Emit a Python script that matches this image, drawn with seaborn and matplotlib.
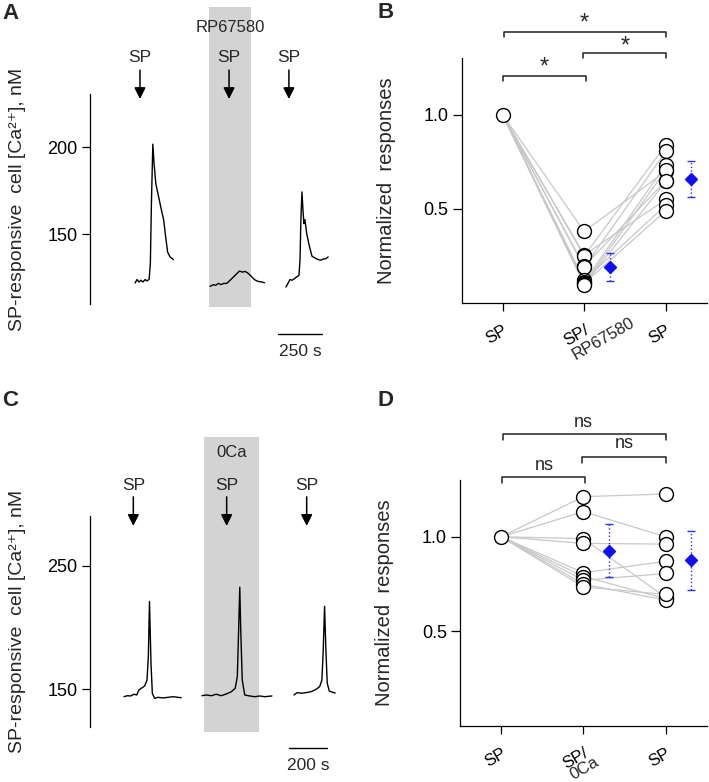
import numpy as np
import pandas as pd
import matplotlib
matplotlib.use("Agg")
import matplotlib.pyplot as plt
import seaborn as sns

# ---- Panel A traces (time in s within each recording, [Ca2+] in nM)
a_t1 = [0, 11, 23, 34, 45, 57, 68, 80, 87, 93, 101, 108, 118, 132, 148, 163, 174, 185, 199, 218]
a_y1 = [122.0, 124.0, 122.6, 123.6, 122.6, 124.0, 123.2, 124.1, 133.2, 167.6, 201.7, 190.6,
        179.1, 172.4, 164.8, 158.0, 148.4, 139.8, 137.0, 135.5]
a_t2 = [0, 19, 32, 47, 62, 78, 95, 114, 133, 152, 167, 184, 199, 214, 233, 252, 271, 294, 309]
a_y2 = [120.1, 121.1, 120.7, 121.8, 121.1, 121.8, 121.8, 123.6, 125.5, 127.4, 128.9, 128.3,
        128.7, 127.8, 126.0, 124.0, 123.0, 122.6, 122.2]
a_t3 = [0, 11, 23, 34, 45, 61, 74, 80, 85, 91, 97, 102, 108, 118, 132, 148, 165, 180, 197,
        212, 227, 240]
a_y3 = [119.7, 121.7, 124.0, 123.6, 124.3, 125.5, 126.4, 135.1, 158.0, 174.3, 163.8, 156.1,
        158.4, 150.4, 143.7, 137.4, 136.4, 135.6, 135.1, 135.8, 136.0, 137.0]

# ---- Panel C traces
c_t1 = [0, 17, 35, 53, 67, 78, 91, 109, 121, 128, 134, 142, 149, 161, 179, 205, 231, 258, 284, 301]
c_y1 = [144.0, 144.8, 144.6, 146.0, 145.4, 149.4, 150.8, 152.7, 157.5, 176.4, 221.0, 171.0,
        146.8, 142.7, 143.5, 143.0, 143.5, 144.0, 143.5, 143.2]
c_t2 = [0, 23, 49, 75, 101, 128, 154, 175, 186, 193, 199, 204, 212, 225, 251, 278, 304, 330, 368]
c_y2 = [144.8, 145.4, 144.8, 146.0, 144.8, 146.2, 148.0, 150.8, 160.2, 198.0, 232.5, 198.0,
        157.5, 145.4, 144.6, 144.0, 144.6, 144.0, 144.6]
c_t3 = [0, 17, 39, 65, 91, 117, 135, 147, 154, 161, 168, 175, 186, 205, 217]
c_y3 = [145.4, 147.3, 146.8, 147.3, 148.1, 150.0, 152.1, 157.5, 181.8, 217.0, 181.8, 154.9,
        148.5, 147.5, 147.0]

# ---- Panel B / D normalized responses (one value per cell)
conds = [0, 1, 2]
b_labels = ["SP", "SP/", "SP"]
b_sp = [1.0] * 10
b_rp = [0.38, 0.255, 0.25, 0.195, 0.19, 0.12, 0.113, 0.105, 0.10, 0.098]
b_wash = [0.70, 0.55, 0.84, 0.65, 0.805, 0.52, 0.734, 0.49, 0.707, 0.645]
b_mean = [0.189, 0.658]
b_err = [0.074, 0.098]
b_sig = ["*", "*", "*"]

d_labels = ["SP", "SP/", "SP"]
d_sp = [1.0] * 9
d_0ca = [1.212, 1.133, 0.99, 0.965, 0.81, 0.79, 0.77, 0.75, 0.735]
d_wash = [1.226, 1.0, 0.68, 0.961, 0.871, 0.673, 0.806, 0.665, 0.695]
d_mean = [0.925, 0.876]
d_err = [0.14, 0.155]
d_sig = ["ns", "ns", "ns"]

sns.set_theme(style="ticks")
plt.rcParams["font.family"] = ["Liberation Sans", "DejaVu Sans"]
plt.rcParams["axes.linewidth"] = 0.9
plt.rcParams["xtick.major.width"] = 0.9
plt.rcParams["ytick.major.width"] = 0.9
plt.rcParams["xtick.color"] = "black"
plt.rcParams["ytick.color"] = "black"
plt.rcParams["axes.edgecolor"] = "black"

fig = plt.figure(figsize=(7.09, 7.82), dpi=100)
SHADE = "#d3d3d3"


def trace_panel(ax, segs, offsets, ylim, yticks, shade, arrows_x, arrow_y, sp_y,
                drug, drug_y, bar, bar_y, bar_label):
    for (t, y), off in zip(segs, offsets):
        df = pd.DataFrame({"t": np.array(t) + off, "y": y})
        sns.lineplot(data=df, x="t", y="y", ax=ax, color="black", lw=1.0, sort=False)
    tr = ax.get_xaxis_transform()
    ax.axvspan(shade[0], shade[1], ymin=shade[2], ymax=shade[3], color=SHADE,
               lw=0, zorder=0, clip_on=False)
    for x in arrows_x:
        ax.annotate("", xy=(x, arrow_y[1]), xytext=(x, arrow_y[0]), xycoords=tr,
                    arrowprops=dict(arrowstyle="-|>", color="black", lw=1.1,
                                    mutation_scale=17, shrinkA=0, shrinkB=0),
                    annotation_clip=False)
        ax.text(x, sp_y, "SP", transform=tr, ha="center", va="center", fontsize=12.5)
    ax.text(np.mean(shade[:2]), drug_y, drug, transform=tr, ha="center", va="center",
            fontsize=12)
    ax.plot(bar, [bar_y, bar_y], transform=tr, color="black", lw=1.0, clip_on=False)
    ax.text(np.mean(bar), bar_y - 0.085, bar_label, transform=tr, ha="center",
            va="center", fontsize=12.5)
    ax.set_xlim(0, ax.get_xlim()[1])
    ax.set_ylim(*ylim)
    ax.set_yticks(yticks)
    ax.set_xticks([])
    for s in ["top", "right", "bottom"]:
        ax.spines[s].set_visible(False)
    ax.tick_params(axis="y", labelsize=13, length=6, pad=3)
    ax.set_xlabel("")
    ax.set_ylabel("SP-responsive  cell [Ca\u00b2\u207a], nM", fontsize=14)
    ax.yaxis.set_label_coords(-0.254, 0.5)


axA = fig.add_axes([0.1269, 0.6113, 0.3526, 0.2685])
axA.set_xlim(0, 1420)
trace_panel(axA, [(a_t1, a_y1), (a_t2, a_y2), (a_t3, a_y3)], [256, 682, 1113],
            (110, 230.5), [150, 200], (676, 915, -0.014, 1.414), [284, 790, 1130],
            (1.114, 0.976), 1.176, "RP67580", 1.319, [1068, 1318], -0.143, "250 s")

axC = fig.add_axes([0.1269, 0.0703, 0.3526, 0.2698])
axC.set_xlim(0, 1315)
trace_panel(axC, [(c_t1, c_y1), (c_t2, c_y2), (c_t3, c_y3)], [179, 589, 1073],
            (119.5, 290), [150, 250], (600, 889, -0.024, 1.374), [228, 719, 1140],
            (1.091, 0.953), 1.147, "0Ca", 1.299, [1048, 1248], -0.0995, "200 s")


def response_panel(ax, first, mid, last, labels, second, sec_off, mean, err, sig,
                   brackets, sig_fs, sig_dy):
    n = len(first)
    df = pd.DataFrame({
        "cell": np.tile(np.arange(n), 3),
        "cond": np.repeat(conds, n),
        "resp": list(first) + list(mid) + list(last),
    })
    sns.lineplot(data=df, x="cond", y="resp", units="cell", estimator=None, ax=ax,
                 color="#c8c8c8", lw=0.9, zorder=1)
    pts = df.drop_duplicates(subset=["cond", "resp"])
    sns.scatterplot(data=pts, x="cond", y="resp", ax=ax, s=100, facecolor="white",
                    edgecolor="black", linewidth=1.0, zorder=3)
    mx = [1.31, 2.31]
    _, caps, bars = ax.errorbar(mx, mean, yerr=err, fmt="D", color="#1010ee", ms=6,
                                ecolor="#3030ee", elinewidth=1.0, capsize=3,
                                capthick=1.0, zorder=4)
    for b in bars:
        b.set_linestyle(":")
    for (x0, x1, yh, yl), s, (tx, ty) in zip(brackets, sig, sig_dy):
        ax.plot([x0, x0, x1, x1], [yl, yh, yh, yl], color="#222222", lw=1.1,
                clip_on=False)
        ax.text(tx, ty, s, ha="center", va="center", fontsize=sig_fs, clip_on=False)
    ax.set_xlim(-0.5, 2.5)
    ax.set_ylim(0, 1.3)
    ax.set_yticks([0.5, 1.0])
    ax.set_yticklabels(["0.5", "1.0"])
    ax.set_xticks(conds)
    ax.set_xticklabels(labels, rotation=30, ha="right", rotation_mode="anchor")
    ax.tick_params(axis="y", labelsize=13, length=6.5, pad=3)
    ax.tick_params(axis="x", labelsize=12, length=6, pad=8)
    ax.annotate(second, xy=(1, 0), xycoords=ax.get_xaxis_transform(),
                xytext=sec_off, textcoords="offset points", rotation=30,
                rotation_mode="anchor", ha="left", va="baseline", fontsize=12,
                annotation_clip=False)
    ax.spines["top"].set_visible(False)
    ax.spines["right"].set_visible(False)
    ax.set_xlabel("")
    ax.set_ylabel("Normalized  responses", fontsize=14.5)
    ax.yaxis.set_label_coords(-0.268, 0.5)


axB = fig.add_axes([0.6512, 0.6125, 0.3456, 0.3133])
response_panel(axB, b_sp, b_rp, b_wash, b_labels, "RP67580", (-6, -41), b_mean, b_err,
               b_sig,
               [(0, 1.02, 1.204, 1.178), (0.98, 2.0, 1.328, 1.30), (0.02, 2.0, 1.438, 1.412)],
               17, [(0.51, 1.25), (1.50, 1.362), (1.0, 1.484)])

axD = fig.add_axes([0.6488, 0.0716, 0.348, 0.3146])
response_panel(axD, d_sp, d_0ca, d_wash, d_labels, "0Ca", (-7, -39), d_mean, d_err,
               d_sig,
               [(0.01, 1.02, 1.314, 1.286), (0.98, 2.0, 1.42, 1.391), (0.02, 2.0, 1.541, 1.511)],
               13, [(0.52, 1.379), (1.50, 1.494), (1.0, 1.603)])

for lab, x, y in [("A", 10.5, 13.5), ("B", 385.5, 12.5), ("C", 10.5, 400), ("D", 385.5, 401)]:
    fig.text(x / 709, 1 - y / 782, lab, ha="center", va="center", fontsize=16,
             fontweight="bold")

fig.savefig("out.png", dpi=100)
